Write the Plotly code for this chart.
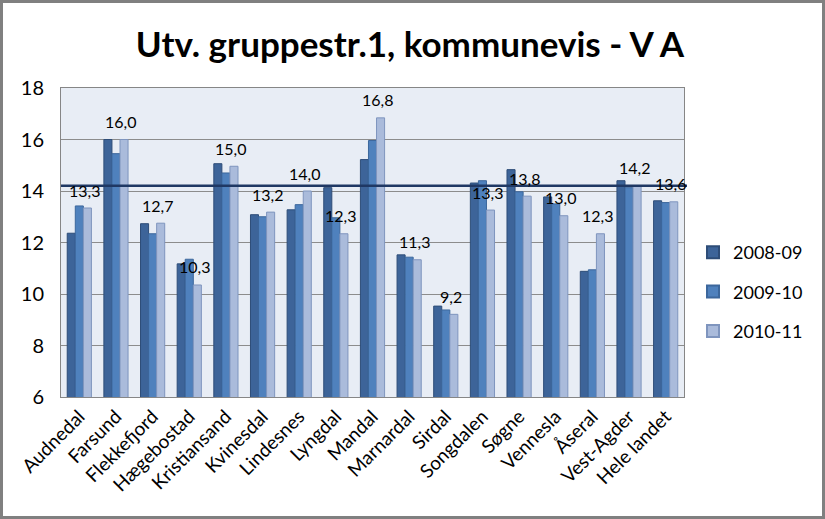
import plotly.graph_objects as go

categories = ["Audnedal", "Farsund", "Flekkefjord", "Hægebostad", "Kristiansand", "Kvinesdal",
              "Lindesnes", "Lyngdal", "Mandal", "Marnardal", "Sirdal", "Songdalen", "Søgne",
              "Vennesla", "Åseral", "Vest-Agder", "Hele landet"]
s2008_09 = [12.36, 16.0, 12.73, 11.17, 15.06, 13.08, 13.27, 14.13, 15.22, 11.52, 9.53, 14.31, 14.83, 13.77, 10.88, 14.40, 13.62]
s2009_10 = [13.42, 15.45, 12.34, 11.35, 14.70, 13.00, 13.47, 12.96, 15.96, 11.43, 9.38, 14.40, 13.97, 13.50, 10.94, 14.13, 13.55]
s2010_11 = [13.34, 16.0, 12.75, 10.35, 14.96, 13.18, 14.0, 12.34, 16.84, 11.33, 9.21, 13.26, 13.80, 13.04, 12.34, 14.21, 13.58]
series_names = ["2008-09", "2009-10", "2010-11"]
label_texts = ["13,3", "16,0", "12,7", "10,3", "15,0", "13,2", "14,0", "12,3", "16,8", "11,3", "9,2",
               "13,3", "13,8", "13,0", "12,3", "14,2", "13,6"]
reference_value = 14.2
y_ticks = [6, 8, 10, 12, 14, 16, 18]

colors = ["#3D6499", "#4F81BD", "#AABBDB"]
outlines = ["#2E4D78", "#3C679C", "#7F95BE"]

fig = go.Figure()
for name, vals, c, oc in zip(series_names, [s2008_09, s2009_10, s2010_11], colors, outlines):
    fig.add_trace(go.Bar(x=categories, y=vals, name=name, legendgroup=name,
                         marker=dict(color=c, line=dict(color=oc, width=1))))

# data labels for the 2010-11 series
for cat, val, txt in zip(categories, s2010_11, label_texts):
    fig.add_annotation(x=cat, y=val, text=txt, showarrow=False, xanchor="center", yanchor="middle",
                       xshift=5, yshift=18,
                       font=dict(family="Lato, Carlito, Liberation Sans, sans-serif", size=16, color="#000"))

L, R, T, B = 61, 141, 88, 122
W, H = 825, 519
pw, ph = W - L - R, H - T - B
n = len(categories)

fig.update_layout(
    width=W, height=H,
    margin=dict(l=L, r=R, t=T, b=B, pad=0, autoexpand=False),
    paper_bgcolor="white",
    plot_bgcolor="#E8EDF5",
    barmode="group",
    bargap=0.34,
    bargroupgap=0.0,
    title=dict(text="<b>Utv. gruppestr.1, kommunevis - V A</b>", x=410 / W, xanchor="center",
               y=1 - 45 / H, yanchor="middle",
               font=dict(family="Lato, Carlito, sans-serif", size=35, color="#000")),
    font=dict(family="Lato, Carlito, Liberation Sans, sans-serif", color="#000"),
    xaxis=dict(type="category", range=[-0.5, n - 0.5], tickangle=-45, tickfont=dict(size=19),
               showgrid=False, ticks="", showline=True, linecolor="#868686", mirror=True,
               zeroline=False, automargin=False),
    yaxis=dict(range=[6, 18], tickvals=y_ticks, ticktext=[str(v) for v in y_ticks],
               tickfont=dict(size=20), showgrid=True, gridcolor="#8C8C8C", gridwidth=1,
               showline=True, linecolor="#868686", mirror=True, zeroline=False, ticks="",
               ticklen=0, automargin=False),
    legend=dict(x=(693 - L) / pw, xanchor="left", y=(H - B - 292) / ph, yanchor="middle",
                font=dict(size=18), tracegroupgap=13, itemsizing="constant", itemwidth=30,
                bgcolor="rgba(0,0,0,0)"),
)
fig.update_yaxes(ticklabelstandoff=12)

# reference line
fig.add_shape(type="line", xref="paper", yref="y", x0=0, x1=(687 - L) / pw,
              y0=reference_value, y1=reference_value, line=dict(color="#1F3864", width=2.5))
# outer border
fig.add_shape(type="rect", xref="paper", yref="paper",
              x0=(-L + 1.5) / pw, x1=(W - L - 1.5) / pw,
              y0=(-B + 1.5) / ph, y1=(H - B - 1.5) / ph,
              line=dict(color="#808080", width=3), layer="above")

fig.write_html("out.html", config={"displayModeBar": False},
               post_script="document.body.style.margin='0';document.body.style.overflow='hidden';")
